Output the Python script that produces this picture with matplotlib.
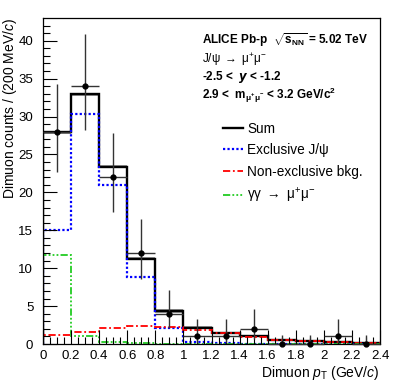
import numpy as np
import matplotlib
matplotlib.use("Agg")
import matplotlib.pyplot as plt
from matplotlib.lines import Line2D

plt.rcParams['font.family'] = ['Liberation Sans', 'DejaVu Sans']
plt.rcParams['mathtext.fontset'] = 'custom'
plt.rcParams['mathtext.rm'] = 'Liberation Sans'
plt.rcParams['mathtext.it'] = 'Liberation Sans:italic'
plt.rcParams['mathtext.bf'] = 'Liberation Sans:bold'

# bins in dimuon pT (GeV/c)
edges = np.arange(0, 2.41, 0.2)
centers = 0.5 * (edges[:-1] + edges[1:])

# data counts with asymmetric (Poisson) errors
counts = [28, 34, 22, 12, 4, 1, 1, 2, 0, 0, 1, 0]
err_lo = [5.3, 5.8, 4.65, 3.45, 1.9, 0.83, 0.83, 1.3, 0, 0, 0.83, 0]
err_hi = [6.3, 6.9, 5.8, 4.55, 3.15, 2.3, 2.3, 2.6, 1.15, 1.15, 2.3, 1.15]

# fit components
excl = [15.1, 30.4, 21.0, 8.8, 2.1, 0.25, 0.1, 0.05, 0.03, 0.02, 0.01, 0.01]
nonexcl = [1.15, 1.55, 2.1, 2.35, 2.2, 1.9, 1.4, 0.95, 0.55, 0.4, 0.2, 0.12]
gamgam = [11.7, 1.0, 0.25, 0.1, 0.03, 0.02, 0.01, 0.01, 0.01, 0.0, 0.0, 0.0]
total = np.array(excl) + np.array(nonexcl) + np.array(gamgam)
total_err = [0.2, 0.2, 0.2, 0.2, 0.3, 0.15, 0.1, 0.08, 0.05, 0.04, 0.03, 0.02]

fig = plt.figure(figsize=(3.99, 3.86), dpi=100)
ax = fig.add_axes([0.1078, 0.1088, 0.8446, 0.8446])

ls_ex = (0, (1, 1))
ls_ne = (0, (4, 1.5, 1, 1.5))
ls_gg = (0, (4, 1.2, 1, 1.2, 1, 1.2, 1, 1.2))

ax.stairs(total + total_err, edges, baseline=total - total_err, fill=True,
          color='#999999', lw=0)
ax.stairs(total, edges, baseline=0, color='black', lw=1.7)
ax.stairs(excl, edges, baseline=0, color='#0000ff', lw=1.6, linestyle=ls_ex)
ax.stairs(nonexcl, edges, baseline=0, color='#ff0000', lw=1.3, linestyle=ls_ne)
ax.stairs(gamgam, edges, baseline=0, color='#22cc22', lw=1.3, linestyle=ls_gg)

ax.errorbar(centers, counts, yerr=[err_lo, err_hi], xerr=0.1, fmt='o',
            color='black', ecolor='#333333', elinewidth=1.0, markersize=3.5,
            capsize=0, zorder=5, clip_on=False)

ax.set_xlim(0, 2.4)
ax.set_ylim(0, 43)
ax.set_xticks(np.arange(0, 2.41, 0.2))
ax.set_xticklabels(['0', '0.2', '0.4', '0.6', '0.8', '1', '1.2', '1.4',
                    '1.6', '1.8', '2', '2.2', '2.4'])
ax.set_xticks(np.arange(0, 2.41, 0.05), minor=True)
ax.set_yticks(np.arange(0, 41, 5))
ax.set_yticks(np.arange(0, 43, 1), minor=True)
ax.tick_params(which='both', direction='in', top=False, right=False,
               labelsize=9.5, color='black')
ax.tick_params(which='major', length=10, width=0.8)
ax.tick_params(which='minor', length=5, width=0.8)
ax.tick_params(axis='x', pad=4)
ax.tick_params(axis='y', pad=7)
for s in ax.spines.values():
    s.set_linewidth(0.9)

ax.set_xlabel(r'Dimuon $p_{\mathrm{T}}$ (GeV/$c$)', fontsize=10, loc='right',
              labelpad=2)
ax.set_ylabel(r'Dimuon counts / (200 MeV/$c$)', fontsize=10, loc='top')
ax.yaxis.set_label_coords(-0.072, 1.0)

tx = 0.472
ax.text(tx, 0.932, r'ALICE Pb-p  $\mathbf{\sqrt{s_{NN}}}$ = 5.02 TeV',
        transform=ax.transAxes, fontsize=8.5, fontweight='bold', va='center')
ax.text(tx, 0.871, r'J/ψ $\rightarrow$ μ$^{+}$μ$^{-}$',
        transform=ax.transAxes, fontsize=8.5, va='center')
ax.text(tx, 0.819, r'-2.5 <  $\boldsymbol{y}$ < -1.2',
        transform=ax.transAxes, fontsize=8.5, fontweight='bold', va='center')
ax.text(tx, 0.764, r'2.9 <  $\mathbf{m_{\mu^{+}\mu^{-}}}$ < 3.2 GeV/$\mathbf{c^{2}}$',
        transform=ax.transAxes, fontsize=8.5, fontweight='bold', va='center')

handles = [Line2D([], [], color='black', lw=1.7),
           Line2D([], [], color='#0000ff', lw=1.6, linestyle=ls_ex),
           Line2D([], [], color='#ff0000', lw=1.3, linestyle=ls_ne),
           Line2D([], [], color='#22cc22', lw=1.3, linestyle=ls_gg)]
labels = ['Sum', 'Exclusive J/ψ', 'Non-exclusive bkg.',
          r'γγ $\rightarrow$ μ$^{+}$μ$^{-}$']
ax.legend(handles, labels, loc='upper left', bbox_to_anchor=(0.533, 0.682),
          frameon=False, fontsize=9.8, handlelength=1.5, handletextpad=0.3,
          labelspacing=0.55, borderaxespad=0, borderpad=0)

fig.savefig('out.png', dpi=100)
